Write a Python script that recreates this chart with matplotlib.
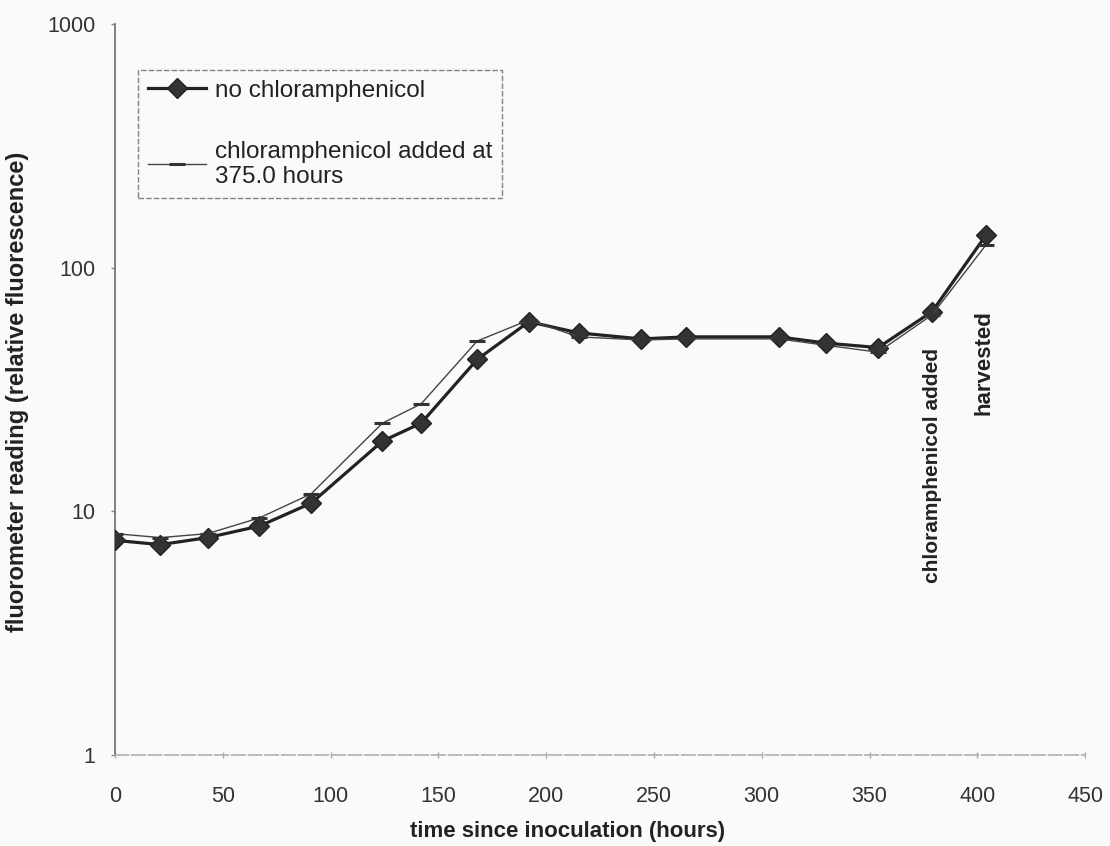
import numpy as np
import matplotlib
matplotlib.use("Agg")
import matplotlib.pyplot as plt

plt.rcParams['font.family'] = ['Liberation Sans', 'DejaVu Sans']

# sampling times (hours since inoculation)
hours = [0, 21, 43, 67, 91, 124, 142, 168, 192, 215, 244, 265, 308, 330, 354, 379, 404]

# fluorometer readings
no_cam = [7.6, 7.3, 7.8, 8.7, 10.8, 19.4, 23, 42, 60, 54, 51, 52, 52, 49, 47, 66, 136]
cam_added = [8.1, 7.8, 8.1, 9.4, 11.8, 23, 27.6, 50, 61, 52, 50.5, 51, 51, 48, 45, 64, 124]

x_ticks = [0, 50, 100, 150, 200, 250, 300, 350, 400, 450]
y_ticks = [1, 10, 100, 1000]

label_no = "no chloramphenicol"
label_cam = "chloramphenicol added at\n375.0 hours"
event_added = (379, 47)
event_harvest = (403, 67)

fig = plt.figure(figsize=(11.1, 8.46), dpi=100)
fig.patch.set_facecolor('#fafafa')
ax = fig.add_axes([0.1036, 0.1076, 0.874, 0.864])
ax.set_facecolor('#fafafa')

ax.plot(hours, no_cam, color='#222222', linewidth=2.3, marker='D',
        markersize=10, markerfacecolor='#333333', markeredgecolor='#222222',
        label=label_no, zorder=3)
ax.plot(hours, cam_added, color='#444444', linewidth=1.0, marker='_',
        markersize=12, markeredgewidth=2.2, markeredgecolor='#333333',
        label=label_cam, zorder=4)

ax.set_yscale('log')
ax.set_xlim(0, 450)
ax.set_ylim(1, 1000)
ax.set_xticks(x_ticks)
ax.set_xticklabels([str(t) for t in x_ticks])
ax.set_yticks(y_ticks)
ax.set_yticklabels([str(t) for t in y_ticks])
ax.yaxis.set_minor_locator(matplotlib.ticker.NullLocator())

ax.tick_params(axis='y', direction='out', length=3, width=1, color='#888888',
               pad=11, labelsize=15.5, labelcolor='#333333')
ax.tick_params(axis='x', direction='inout', length=4, width=1, color='#aaaaaa',
               pad=20, labelsize=15.5, labelcolor='#333333')

for side in ['top', 'right']:
    ax.spines[side].set_visible(False)
ax.spines['left'].set_color('#777777')
ax.spines['left'].set_linewidth(1.3)
ax.spines['bottom'].set_color('#b0b0b0')
ax.spines['bottom'].set_linewidth(1.2)
ax.spines['bottom'].set_linestyle((0, (8, 2)))

# event markers written vertically above the last points
ax.text(event_added[0], event_added[1], "chloramphenicol added", rotation=90,
        ha='center', va='top', fontsize=15, fontweight='bold', color='#222222')
ax.text(event_harvest[0], event_harvest[1], "harvested", rotation=90,
        ha='center', va='top', fontsize=16, fontweight='bold', color='#222222')

leg = ax.legend(loc='upper left', bbox_to_anchor=(138 / 1110, 1 - 70 / 846),
                bbox_transform=fig.transFigure, fontsize=17.5, frameon=True,
                fancybox=False, handlelength=2.4, handletextpad=0.35,
                labelspacing=1.6, borderpad=0.4, borderaxespad=0)
frame = leg.get_frame()
frame.set_edgecolor('#666666')
frame.set_linestyle((0, (4, 1.5)))
frame.set_linewidth(1.0)
frame.set_facecolor('#fafafa')
for txt in leg.get_texts():
    txt.set_color('#222222')

fig.text(18 / 1110, 1 - 392 / 846, "fluorometer reading (relative fluorescence)",
         rotation=90, ha='center', va='center', fontsize=17, fontweight='bold',
         color='#222222')
fig.text(568 / 1110, 1 - 831 / 846, "time since inoculation (hours)",
         ha='center', va='center', fontsize=16, fontweight='bold', color='#222222')

fig.savefig('out.png', dpi=100, facecolor=fig.get_facecolor())
